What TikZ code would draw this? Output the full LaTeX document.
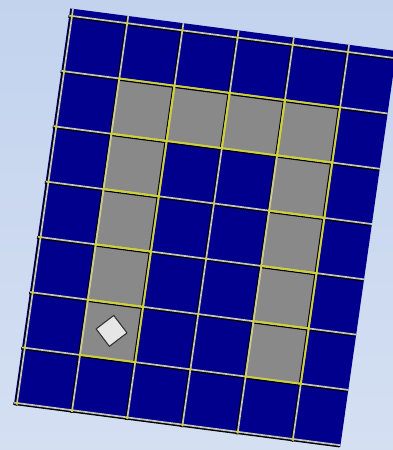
\documentclass[tikz,border=0pt]{standalone}
\definecolor{bgtop}{HTML}{C3D3EE}
\definecolor{bgbot}{HTML}{D4DFF2}
\definecolor{cellblue}{HTML}{00008C}
\definecolor{cellgrey}{HTML}{898989}
\definecolor{gridlight}{HTML}{C4C4C0}
\definecolor{gridyellow}{HTML}{D0D03A}
\definecolor{paleyellow}{HTML}{CCCC90}
\definecolor{diamondfill}{HTML}{E6E6E6}
\tikzset{
  shadowline/.style={black, line width=2.8pt, xshift=-0.8pt, yshift=-0.8pt},
  lightline/.style={gridlight, line width=1.7pt},
  yellowline/.style={gridyellow, line width=1.8pt, line cap=round, line join=round},
  paleline/.style={paleyellow, line width=1.7pt},
  crossdot/.style={fill=gridyellow},
  pathcell/.style={fill=cellgrey},
  token/.style={fill=diamondfill, draw=black!80, line width=1.1pt, line join=round}
}
\begin{document}
\begin{tikzpicture}[x=1pt,y=1pt]
\useasboundingbox (0,0) rectangle (393,450);
\clip (0,0) rectangle (393,450);
\shade[top color=bgtop,bottom color=bgbot] (0,0) rectangle (393,450);
\begin{scope}[shift={(72,434)}, x={(55.2pt,-7.2pt)}, y={(-7.86pt,-55.29pt)}]
  % board
  \fill[cellblue] (-0.05,-0.13) -- (5.86,-0.13) -- (5.86,7.03) -- (-0.05,7.03) -- cycle;
  % grey path cells
  \foreach \c/\r in {1/1,2/1,3/1,4/1,1/2,1/3,1/4,1/5,4/2,4/3,4/4,4/5}
    \fill[pathcell] (\c,\r) -- (\c+1,\r) -- (\c+1,\r+1) -- (\c,\r+1) -- cycle;
  % grid shadows
  \foreach \r in {0,...,7}
    \draw[shadowline] (-0.05,\r) -- (5.86,\r);
  \foreach \c in {0,...,5}
    \draw[shadowline] (\c,-0.13) -- (\c,7.03);
  % grid light lines
  \foreach \r in {0,...,7}
    \draw[lightline] (-0.05,\r) -- (5.86,\r);
  \foreach \c in {0,...,5}
    \draw[lightline] (\c,-0.13) -- (\c,7.03);
  % yellow edges round the path cells (left edges next to blue are paler)
  \foreach \c/\r in {1/1,2/1,3/1,4/1,1/2,1/3,1/4,1/5,4/2,4/3,4/4,4/5}
    \draw[yellowline] (\c,\r) -- (\c+1,\r) -- (\c+1,\r+1) -- (\c,\r+1);
  \foreach \c/\r in {2/1,3/1,4/1}
    \draw[yellowline] (\c,\r) -- (\c,\r+1);
  \foreach \c/\r in {1/1,1/2,1/3,1/4,1/5,4/2,4/3,4/4,4/5}
    \draw[paleline] (\c,\r) -- (\c,\r+1);
  % intersection dots
  \foreach \c in {0,...,5}
    \foreach \r in {0,...,7}
      \fill[crossdot] (\c,\r) circle (1.7pt);
  % token
  \draw[token] (1.5,5.22) -- (1.78,5.5) -- (1.5,5.78) -- (1.22,5.5) -- cycle;
\end{scope}
\end{tikzpicture}
\end{document}
